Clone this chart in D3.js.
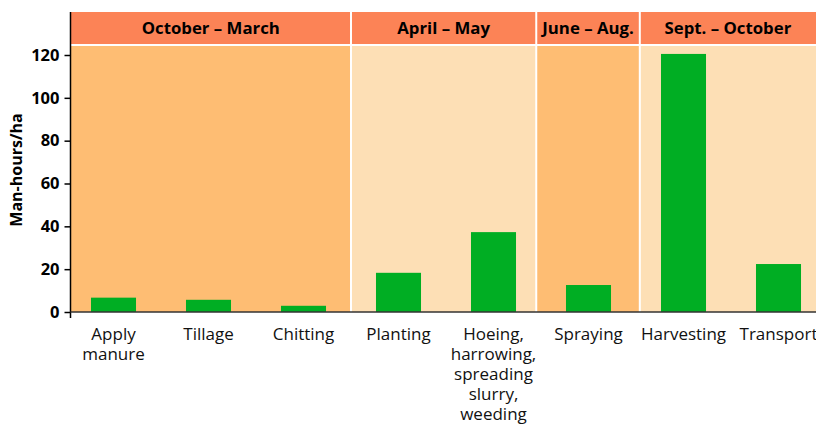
<!DOCTYPE html>
<html>
<head>
<meta charset="utf-8">
<script src="https://cdn.jsdelivr.net/npm/d3@7"></script>
<style>
  body { margin: 0; background: #fff; }
  svg { display: block; font-family: "Open Sans", sans-serif; }
</style>
</head>
<body>
<div id="chart"></div>
<script>
// data
var tasks = ["Apply manure", "Tillage", "Chitting", "Planting",
             "Hoeing, harrowing, spreading slurry, weeding",
             "Spraying", "Harvesting", "Transport"];
var taskLines = [["Apply", "manure"], ["Tillage"], ["Chitting"], ["Planting"],
                 ["Hoeing,", "harrowing,", "spreading", "slurry,", "weeding"],
                 ["Spraying"], ["Harvesting"], ["Transport"]];
var manHours = [6.7, 5.7, 2.9, 18.3, 37.3, 12.6, 120.5, 22.4];
var yTicks = [0, 20, 40, 60, 80, 100, 120];
var seasons = ["October \u2013 March", "April \u2013 May", "June \u2013 Aug.", "Sept. \u2013 October"];
// season spans, in category slots
var seasonFrom = [0, 3, 4.95, 6.04];
var seasonTo = [3, 4.95, 6.04, 8];

var width = 816, height = 425;
var axisX = 70.5, topY = 12, headH = 32, zeroY = 312;

var svg = d3.select("#chart").append("svg")
    .attr("width", width)
    .attr("height", height);

var x = d3.scaleBand()
    .domain(tasks)
    .range([66, 826])
    .paddingInner(0.526)
    .paddingOuter(0.263);

var y = d3.scaleLinear()
    .domain([0, 120])
    .range([zeroY, 55]);

var slot = function(v) { return 66 + v * x.step(); };

// season backgrounds
seasons.forEach(function(s, i) {
    var x0 = Math.max(axisX, slot(seasonFrom[i]));
    var x1 = Math.min(width, slot(seasonTo[i]));
    svg.append("rect")
        .attr("x", x0).attr("y", topY)
        .attr("width", x1 - x0).attr("height", headH)
        .attr("fill", "#fc8356");
    svg.append("rect")
        .attr("x", x0).attr("y", topY + headH + 2)
        .attr("width", x1 - x0).attr("height", zeroY - (topY + headH + 2))
        .attr("fill", i % 2 == 0 ? "#febd73" : "#fddfb5");
    svg.append("text")
        .attr("x", (x0 + x1) / 2)
        .attr("y", topY + 21.5)
        .attr("text-anchor", "middle")
        .attr("font-size", "16.8px")
        .attr("font-weight", "bold")
        .attr("fill", "#000")
        .text(s);
    if (i > 0) {
        svg.append("line")
            .attr("x1", x0).attr("x2", x0)
            .attr("y1", topY).attr("y2", zeroY)
            .attr("stroke", "#fff")
            .attr("stroke-width", 2);
    }
});

// white line under header
svg.append("line")
    .attr("x1", axisX).attr("x2", width)
    .attr("y1", topY + headH + 1).attr("y2", topY + headH + 1)
    .attr("stroke", "#fff").attr("stroke-width", 2);

// bars
svg.selectAll(".bar")
    .data(manHours)
    .enter().append("rect")
    .attr("class", "bar")
    .attr("x", function(d, i) { return x(tasks[i]); })
    .attr("y", function(d) { return y(d); })
    .attr("width", x.bandwidth())
    .attr("height", function(d) { return y(0) - y(d); })
    .attr("fill", "#00ae23");

// y axis
var yAxis = svg.append("g")
    .attr("transform", "translate(" + axisX + ",0)")
    .call(d3.axisLeft(y).tickValues(yTicks).tickSize(6).tickPadding(5));
yAxis.select(".domain").remove();
yAxis.selectAll("line").attr("stroke", "#000").attr("stroke-width", 1.5);
yAxis.selectAll("text")
    .attr("font-size", "16.5px")
    .attr("font-weight", "bold")
    .attr("font-family", "Open Sans, sans-serif")
    .attr("fill", "#000");

svg.append("line")
    .attr("x1", axisX).attr("x2", axisX)
    .attr("y1", topY).attr("y2", zeroY + 6)
    .attr("stroke", "#000").attr("stroke-width", 1.5);

// x axis line
svg.append("line")
    .attr("x1", axisX).attr("x2", width)
    .attr("y1", zeroY).attr("y2", zeroY)
    .attr("stroke", "#333").attr("stroke-width", 1.5);

// category labels
var labels = svg.selectAll(".xlab")
    .data(tasks)
    .enter().append("text")
    .attr("class", "xlab")
    .attr("text-anchor", "middle")
    .attr("font-size", "17px")
    .attr("fill", "#111")
    .attr("transform", function(d) {
        return "translate(" + (x(d) + x.bandwidth() / 2) + "," + (zeroY + 28) + ")";
    });
labels.each(function(d, i) {
    var t = d3.select(this);
    taskLines[i].forEach(function(line, j) {
        t.append("tspan").attr("x", 0).attr("y", j * 20).text(line);
    });
});

// y title
svg.append("text")
    .attr("transform", "translate(22,170) rotate(-90)")
    .attr("text-anchor", "middle")
    .attr("font-size", "16px")
    .attr("font-weight", "bold")
    .attr("fill", "#000")
    .text("Man-hours/ha");
</script>
</body>
</html>
